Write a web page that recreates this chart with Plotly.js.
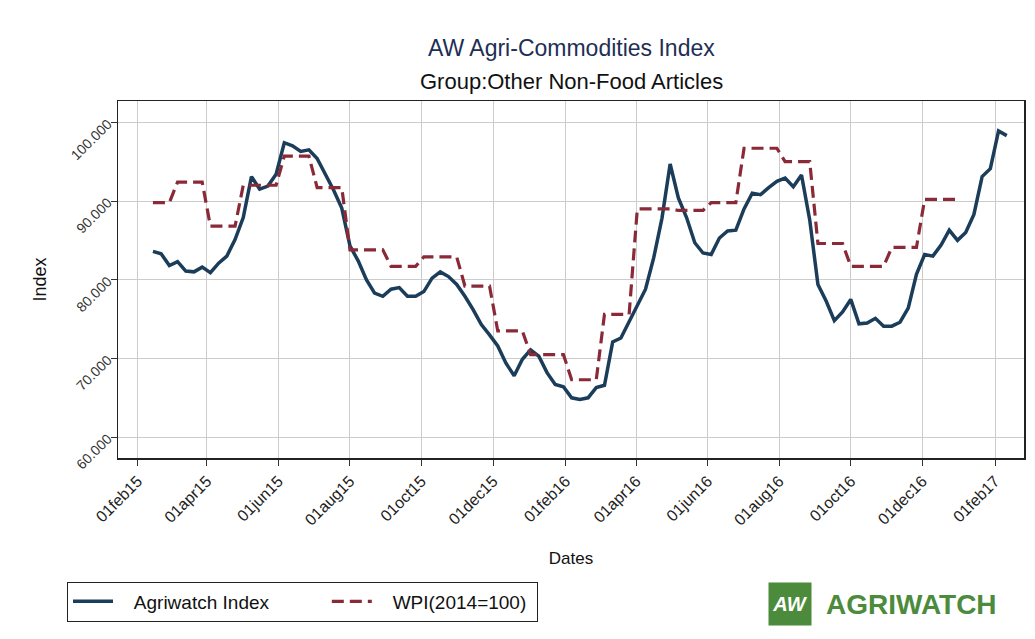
<!DOCTYPE html>
<html>
<head>
<meta charset="utf-8">
<script src="https://cdn.plot.ly/plotly-3.0.1.min.js"></script>
<style>
html,body{margin:0;padding:0;background:#fff;}
#chart{width:1035px;height:639px;}
</style>
</head>
<body>
<div id="chart"></div>
<script>
// Weekly observation dates
const dates = [
"2015-02-14","2015-02-21","2015-02-28",
"2015-03-07","2015-03-14","2015-03-21","2015-03-28",
"2015-04-04","2015-04-11","2015-04-18","2015-04-25",
"2015-05-02","2015-05-09","2015-05-16","2015-05-23","2015-05-30",
"2015-06-06","2015-06-13","2015-06-20","2015-06-27",
"2015-07-04","2015-07-11","2015-07-18","2015-07-25",
"2015-08-01","2015-08-08","2015-08-15","2015-08-22","2015-08-29",
"2015-09-05","2015-09-12","2015-09-19","2015-09-26",
"2015-10-03","2015-10-10","2015-10-17","2015-10-24","2015-10-31",
"2015-11-07","2015-11-14","2015-11-21","2015-11-28",
"2015-12-05","2015-12-12","2015-12-19","2015-12-26",
"2016-01-02","2016-01-09","2016-01-16","2016-01-23","2016-01-30",
"2016-02-06","2016-02-13","2016-02-20","2016-02-27",
"2016-03-05","2016-03-12","2016-03-19","2016-03-26",
"2016-04-02","2016-04-09","2016-04-16","2016-04-23","2016-04-30",
"2016-05-07","2016-05-14","2016-05-21","2016-05-28",
"2016-06-04","2016-06-11","2016-06-18","2016-06-25",
"2016-07-02","2016-07-09","2016-07-16","2016-07-23","2016-07-30",
"2016-08-06","2016-08-13","2016-08-20","2016-08-27",
"2016-09-03","2016-09-10","2016-09-17","2016-09-24",
"2016-10-01","2016-10-08","2016-10-15","2016-10-22","2016-10-29",
"2016-11-05","2016-11-12","2016-11-19","2016-11-26",
"2016-12-03","2016-12-10","2016-12-17","2016-12-24","2016-12-31",
"2017-01-07","2017-01-14","2017-01-21","2017-01-28",
"2017-02-04","2017-02-11"
];

// Agriwatch Index (weekly)
const agriwatch = [
83.6,83.3,81.8,
82.3,81.1,81.0,81.6,
80.9,82.1,83.0,85.1,
87.9,93.1,91.5,91.9,93.4,
97.4,97.0,96.3,96.5,
95.4,93.4,91.4,89.1,
84.3,82.4,80.0,78.3,77.9,
78.8,79.0,77.9,77.9,
78.5,80.2,81.0,80.4,79.4,
77.9,76.2,74.3,73.0,
71.6,69.4,67.8,69.9,
71.1,70.3,68.2,66.7,66.4,
65.0,64.8,65.0,66.3,
66.6,72.1,72.6,74.7,
76.6,78.8,82.8,87.8,94.7,
90.4,87.9,84.7,83.4,
83.2,85.3,86.2,86.3,
89.0,91.0,90.8,91.7,92.5,
92.9,91.8,93.3,87.6,
79.4,77.3,74.8,75.9,
77.5,74.4,74.5,75.1,74.1,
74.1,74.6,76.4,80.7,
83.2,83.0,84.4,86.3,85.0,
86.0,88.3,93.1,94.1,
98.9,98.3
];

// WPI (2014=100), monthly level as recorded each week
const wpi = [
89.8,89.8,89.8,
92.4,92.4,92.4,92.4,
86.8,86.8,86.8,86.8,
92.0,92.0,92.0,92.0,92.0,
95.7,95.7,95.7,95.7,
91.7,91.7,91.7,91.7,
83.8,83.8,83.8,83.8,83.8,
81.7,81.7,81.7,81.7,
82.9,82.9,82.9,82.9,82.9,
79.2,79.2,79.2,79.2,
73.5,73.5,73.5,73.5,
70.5,70.5,70.5,70.5,70.5,
67.3,67.3,67.3,67.3,
75.6,75.6,75.6,75.6,
89.0,89.0,89.0,89.0,89.0,
88.8,88.8,88.8,88.8,
89.8,89.8,89.8,89.8,
96.7,96.7,96.7,96.7,96.7,
95.0,95.0,95.0,95.0,
84.6,84.6,84.6,84.6,
81.7,81.7,81.7,81.7,81.7,
84.1,84.1,84.1,84.1,
90.2,90.2,90.2,90.2,90.2,
null,null,null,null,
null,null
];

const xTickVals = ["2015-02-01","2015-04-01","2015-06-01","2015-08-01","2015-10-01","2015-12-01",
  "2016-02-01","2016-04-01","2016-06-01","2016-08-01","2016-10-01","2016-12-01","2017-02-01"];
const xTickText = ["01feb15","01apr15","01jun15","01aug15","01oct15","01dec15",
  "01feb16","01apr16","01jun16","01aug16","01oct16","01dec16","01feb17"];
const yTickVals = [60,70,80,90,100];

const seriesNames = ["Agriwatch Index", "WPI(2014=100)"];
const NB = "\u00a0";
const LEAD = NB.repeat(3);
const TRAIL = NB.repeat(10);

const FONT = "Liberation Sans, Arial, Helvetica, sans-serif";
const GREEN = "#4b8b3b";

function px(x) { return (x - 118) / 906; }
function py(y) { return (458.5 - y) / 357; }

const traces = [
  {
    x: dates, y: agriwatch, name: LEAD + seriesNames[0] + TRAIL, type: "scatter", mode: "lines",
    line: {color: "#1b3d5a", width: 3.5}
  },
  {
    x: dates, y: wpi, name: LEAD + seriesNames[1] + NB, type: "scatter", mode: "lines",
    line: {color: "#8a2a38", width: 3.2, dash: "12px,6px"},
    connectgaps: false
  }
];

const layout = {
  width: 1035, height: 639,
  paper_bgcolor: "#ffffff", plot_bgcolor: "#ffffff",
  margin: {l: 118, r: 11, t: 101, b: 181},
  font: {family: FONT, color: "#222"},
  showlegend: true,
  legend: {
    orientation: "h", x: px(67), y: py(582), xanchor: "left", yanchor: "top",
    bordercolor: "#222", borderwidth: 1, bgcolor: "#fff",
    font: {size: 19, color: "#111", family: FONT},
    itemwidth: 40, tracegroupgap: 0
  },
  xaxis: {
    type: "date",
    range: ["2015-01-15 05:00", "2017-02-25 17:00"],
    tickvals: xTickVals, ticktext: xTickText, tickangle: -45,
    tickfont: {size: 16, color: "#222", family: FONT},
    ticks: "outside", ticklen: 6, tickcolor: "#333",
    showgrid: true, gridcolor: "#cccccc", gridwidth: 1,
    showline: true, linecolor: "#222", linewidth: 1.5, mirror: true,
    zeroline: false,
    title: {text: "Dates", font: {size: 17, color: "#111", family: FONT}, standoff: 24},
    automargin: false
  },
  yaxis: {
    range: [57.36, 102.7],
    tickvals: yTickVals, tickformat: ".3f", tickangle: -45,
    tickfont: {size: 14, color: "#333", family: FONT},
    ticks: "outside", ticklen: 6, tickcolor: "#333",
    showgrid: true, gridcolor: "#cccccc", gridwidth: 1,
    showline: true, linecolor: "#222", linewidth: 1.5, mirror: true,
    zeroline: false,
    title: {text: "Index", font: {size: 18, color: "#111", family: FONT}, standoff: 16},
    automargin: false
  },
  annotations: [
    {text: "AW Agri-Commodities Index", xref: "paper", yref: "paper", x: 0.5, y: 1.0,
     yshift: 68, showarrow: false, font: {size: 23, color: "#1e2f55", family: FONT}},
    {text: "Group:Other Non-Food Articles", xref: "paper", yref: "paper", x: 0.5, y: 1.0,
     yshift: 34, showarrow: false, font: {size: 22, color: "#111", family: FONT}},
    {text: "<b><i>AW</i></b>", xref: "paper", yref: "paper", x: px(790), y: py(604.5),
     xanchor: "center", yanchor: "middle", width: 40, height: 40, align: "center", valign: "middle",
     bgcolor: GREEN, showarrow: false, font: {size: 20, color: "#ffffff", family: FONT}},
    {text: "<b>AGRIWATCH</b>", xref: "paper", yref: "paper", x: px(824), y: py(605),
     xanchor: "left", yanchor: "middle", showarrow: false, font: {size: 28, color: GREEN, family: FONT}}
  ]
};

Plotly.newPlot("chart", traces, layout, {displayModeBar: false, staticPlot: true});
</script>
</body>
</html>
